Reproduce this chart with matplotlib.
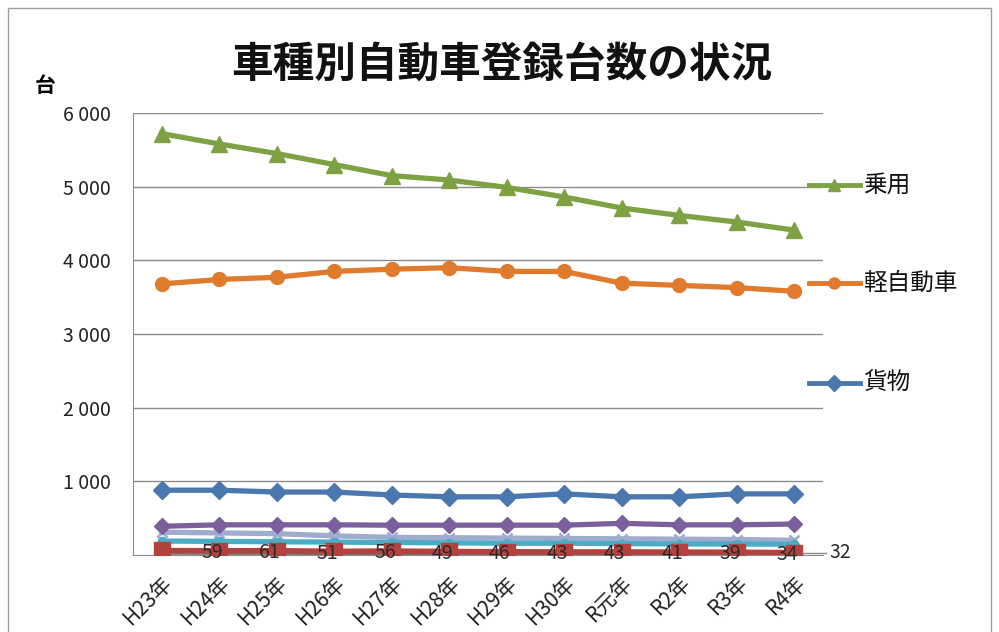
import matplotlib
matplotlib.use('Agg')
import matplotlib.pyplot as plt
from matplotlib.patches import Rectangle

plt.rcParams['font.family'] = ['Noto Sans CJK JP', 'DejaVu Sans']

# categories (fiscal years)
years = ['H23年', 'H24年', 'H25年', 'H26年', 'H27年', 'H28年',
         'H29年', 'H30年', 'R元年', 'R2年', 'R3年', 'R4年']

# series values (台)
jouyou = [5720, 5580, 5450, 5300, 5150, 5090, 4990, 4860, 4710, 4610, 4520, 4410]
kei = [3680, 3740, 3770, 3850, 3880, 3900, 3850, 3850, 3690, 3660, 3630, 3580]
kamotsu = [880, 880, 855, 855, 815, 790, 790, 830, 790, 790, 830, 830]
purple_s = [390, 410, 410, 410, 405, 405, 405, 405, 430, 410, 410, 420]
lavender_s = [310, 300, 290, 260, 240, 235, 230, 225, 220, 215, 210, 200]
cyan_s = [190, 185, 180, 175, 170, 165, 160, 160, 155, 150, 150, 145]
dark_s = [40, 38, 38, 36, 36, 35, 35, 34, 34, 33, 33, 32]
red_s = [62, 59, 61, 51, 56, 49, 46, 43, 43, 41, 39, 34]

yticks = [1000, 2000, 3000, 4000, 5000, 6000]
ytick_labels = ['1 000', '2 000', '3 000', '4 000', '5 000', '6 000']

fig = plt.figure(figsize=(9.99, 6.32), dpi=100)
fig.patch.set_facecolor('white')
# thin outer frame of the chart area
fig.add_artist(Rectangle((0.008, -0.01), 0.984, 0.998, transform=fig.transFigure,
                         fill=False, ec='#a0a0a0', lw=1.0))

ax = fig.add_axes([0.1331, 0.1218, 0.6907, 0.6994])
x = list(range(len(years)))

lw = 3.8
ax.plot(x, lavender_s, color='#9fabcf', lw=lw, marker='x', ms=7, mew=2, zorder=3)
ax.plot(x, cyan_s, color='#4bacc6', lw=lw, marker='o', ms=6, zorder=3)
ax.plot(x, dark_s, color='#7a6a6a', lw=lw, zorder=3)
ax.plot(x, red_s, color='#b3413e', lw=lw, marker='s', ms=12, zorder=4)
ax.plot(x, purple_s, color='#7b5f9c', lw=lw, marker='D', ms=8, zorder=5)
ax.plot(x, kamotsu, color='#4a78ae', lw=lw, marker='D', ms=9, zorder=5)
ax.plot(x, kei, color='#e07b2e', lw=lw, marker='o', ms=10, zorder=5)
ax.plot(x, jouyou, color='#7ea143', lw=lw, marker='^', ms=11, zorder=5)

# data labels of the red series (first one hidden under the marker)
for i in range(1, len(years)):
    ax.text(i - 0.12, red_s[i] - 25, str(red_s[i]), fontsize=14, color='#2a2a2a',
            ha='center', va='center', zorder=6)

# end label with leader line
ax.plot([11.1, 11.55], [dark_s[-1], dark_s[-1]], color='#888888', lw=1, clip_on=False)
ax.text(11.62, dark_s[-1], str(dark_s[-1]), fontsize=14, color='#2a2a2a',
        ha='left', va='center')

# series name labels on the right
name_items = [('乗用', 5020, '#7ea143', '^'),
              ('軽自動車', 3690, '#e07b2e', 'o'),
              ('貨物', 2340, '#4a78ae', 'D')]
for name, ypos, col, mk in name_items:
    ax.plot([11.25, 12.15], [ypos, ypos], color=col, lw=3.5, clip_on=False)
    ax.plot([11.7], [ypos], color=col, marker=mk, ms=8, clip_on=False)
    ax.text(12.2, ypos, name, fontsize=17, color='#111111', ha='left', va='center')

ax.set_xlim(-0.5, len(years) - 0.5)
ax.set_ylim(0, 6000)
ax.set_yticks(yticks)
ax.set_yticklabels(ytick_labels, fontsize=14, color='#222222')
ax.set_xticks(x)
ax.set_xticklabels(years, rotation=45, ha='right', rotation_mode='anchor',
                   fontsize=15, color='#222222')
ax.tick_params(axis='both', length=0)
ax.tick_params(axis='y', pad=16)
ax.tick_params(axis='x', pad=12)
ax.grid(axis='y', color='#8c8c8c', lw=1)
ax.set_axisbelow(True)
for side in ['top', 'right']:
    ax.spines[side].set_visible(False)
ax.spines['left'].set_color('#8c8c8c')
ax.spines['bottom'].set_color('#8c8c8c')

fig.text(0.502, 0.897, '車種別自動車登録台数の状況', fontsize=30, fontweight='bold',
         ha='center', va='center', color='#111111')
fig.text(0.035, 0.865, '台', fontsize=15, fontweight='bold', ha='left', va='center')

plt.savefig('out.png', dpi=100)
